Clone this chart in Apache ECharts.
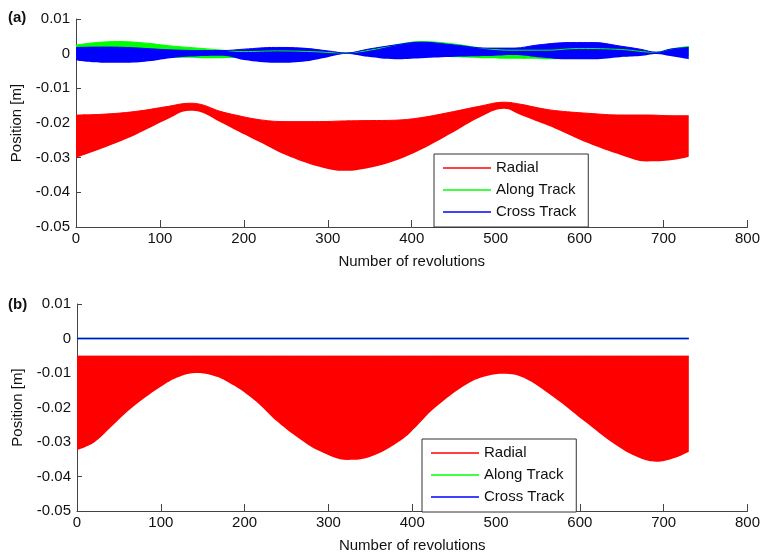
<!DOCTYPE html>
<html>
<head>
<meta charset="utf-8">
<script src="https://cdn.jsdelivr.net/npm/echarts@6/dist/echarts.min.js"></script>
<style>
  html, body { margin: 0; padding: 0; background: #ffffff; }
  #chart { width: 763px; height: 554px; }
</style>
</head>
<body>
<div id="chart"></div>
<script>
// Position errors over the orbit; each oscillating component is described by
// the upper and lower envelope of its fast oscillation, sampled at the
// revolution counts listed in the matching rev* array.

// ---- (a) ----
const revRadialA    = [0, 30, 70, 110, 135, 150, 170, 190, 220, 250, 290, 320, 350, 380, 410, 450, 480, 510, 530, 550, 570, 610, 650, 680, 710, 730];
const radialTopA    = [-0.0177, -0.0175, -0.0167, -0.0152, -0.0143, -0.0147, -0.0165, -0.0177, -0.0191, -0.0196, -0.0196, -0.0194, -0.0193, -0.0192, -0.0185, -0.0167, -0.0152, -0.0140, -0.0146, -0.0156, -0.0164, -0.0172, -0.0177, -0.0177, -0.0179, -0.0179];
const radialBottomA = [-0.0300, -0.0274, -0.0235, -0.0188, -0.0165, -0.0170, -0.0195, -0.0220, -0.0256, -0.0292, -0.0326, -0.0338, -0.0329, -0.0309, -0.0278, -0.0226, -0.0185, -0.0159, -0.0177, -0.0196, -0.0215, -0.0258, -0.0293, -0.0311, -0.0307, -0.0297];

const revAlongA     = [0, 25, 50, 85, 110, 150, 175, 200, 240, 280, 320, 350, 380, 411, 450, 490, 522, 560, 600, 650, 690, 710, 730];
const alongTopA     = [0.0025, 0.0032, 0.0035, 0.0030, 0.0023, 0.0015, 0.0010, 0.0006, 0.0008, 0.0006, 0.0002, 0.0010, 0.0025, 0.0035, 0.0028, 0.0014, 0.0010, 0.0010, 0.0015, 0.0012, 0.0004, 0.0014, 0.0021];
const alongBottomA  = [-0.0008, -0.0009, -0.0009, -0.0010, -0.0012, -0.0013, -0.0013, -0.0012, -0.0010, -0.0006, 0.0000, -0.0004, -0.0006, -0.0008, -0.0010, -0.0013, -0.0015, -0.0016, -0.0014, -0.0008, 0.0000, -0.0004, -0.0006];

const revCrossA     = [0, 30, 60, 90, 112, 150, 175, 200, 238, 270, 300, 322, 348, 380, 411, 451, 490, 522, 550, 589, 617, 648, 672, 692, 708, 730];
const crossTopA     = [0.0018, 0.0019, 0.0018, 0.0014, 0.0011, 0.0009, 0.0009, 0.0013, 0.0018, 0.0016, 0.0008, 0.0002, 0.0013, 0.0025, 0.0033, 0.0025, 0.0016, 0.0016, 0.0025, 0.0032, 0.0032, 0.0022, 0.0013, 0.0004, 0.0013, 0.0018];
const crossBottomA  = [-0.0020, -0.0026, -0.0026, -0.0021, -0.0013, -0.0007, -0.0006, -0.0018, -0.0026, -0.0023, -0.0010, -0.0001, -0.0009, -0.0016, -0.0013, -0.0009, -0.0007, -0.0004, -0.0010, -0.0016, -0.0016, -0.0010, -0.0007, -0.0001, -0.0007, -0.0016];

// ---- (b) ----
const revRadialB    = [0, 20, 40, 67, 105, 125, 142, 160, 180, 210, 240, 265, 290, 323, 350, 387, 406, 426, 466, 490, 509, 533, 568, 604, 643, 670, 691, 712, 730];
const radialTopB    = [-0.0051, -0.0051, -0.0051, -0.0051, -0.0051, -0.0051, -0.0051, -0.0051, -0.0051, -0.0051, -0.0051, -0.0051, -0.0051, -0.0051, -0.0051, -0.0051, -0.0051, -0.0051, -0.0051, -0.0051, -0.0051, -0.0051, -0.0051, -0.0051, -0.0051, -0.0051, -0.0051, -0.0051, -0.0051];
const radialBottomB = [-0.0323, -0.0302, -0.0258, -0.0198, -0.0132, -0.0108, -0.0100, -0.0106, -0.0126, -0.0175, -0.0243, -0.0290, -0.0327, -0.0352, -0.0343, -0.0294, -0.0252, -0.0203, -0.0131, -0.0108, -0.0102, -0.0114, -0.0169, -0.0237, -0.0309, -0.0345, -0.0357, -0.0347, -0.0328];

const revLineB      = [0, 730];
const alongB        = [0, 0];
const crossB        = [0, 0];

// axis ticks
const xTicks = [0, 100, 200, 300, 400, 500, 600, 700, 800];
const yTicks = [-0.05, -0.04, -0.03, -0.02, -0.01, 0, 0.01];

const RED = '#ff0000', GREEN = '#00ff00', BLUE = '#0000ff';
const FONT = '"Liberation Sans", Arial, sans-serif';
const TEXT = '#111111';
const AXIS = '#444444';

// A filled band: an invisible base line on the lower envelope with the
// band thickness stacked on top of it. Values come first in each item so
// the stack is applied to the position, not to the revolution count.
function band(name, revs, top, bottom, color, gi, stackId) {
  const common = {
    type: 'line', xAxisIndex: gi, yAxisIndex: gi,
    stack: stackId, stackStrategy: 'all',
    encode: { x: 1, y: 0 },
    symbol: 'none', smooth: 0.4, animation: false
  };
  return [
    Object.assign({}, common, {
      data: revs.map((r, i) => [bottom[i], r]),
      lineStyle: { width: 0, opacity: 0 },
      silent: true
    }),
    Object.assign({}, common, {
      name: name,
      color: color,
      data: revs.map((r, i) => [top[i] - bottom[i], r]),
      lineStyle: { width: 1, color: color },
      areaStyle: { color: color, opacity: 1 }
    })
  ];
}

function line(name, revs, vals, color, gi) {
  return {
    type: 'line', name: name, xAxisIndex: gi, yAxisIndex: gi,
    color: color, symbol: 'none', animation: false,
    data: revs.map((r, i) => [r, vals[i]]),
    lineStyle: { width: 1.5, color: color }
  };
}

function xAxis(gi) {
  return {
    type: 'value', gridIndex: gi,
    min: xTicks[0], max: xTicks[xTicks.length - 1], interval: 100,
    name: 'Number of revolutions', nameLocation: 'middle', nameGap: 27,
    nameTextStyle: { fontFamily: FONT, fontSize: 15, color: TEXT },
    axisLine: { show: true, onZero: false, lineStyle: { color: AXIS, width: 1 } },
    axisTick: { show: true, inside: true, length: 7, lineStyle: { color: AXIS } },
    axisLabel: { fontFamily: FONT, fontSize: 15, color: TEXT, margin: 4 },
    splitLine: { show: false }
  };
}

function yAxis(gi) {
  return {
    type: 'value', gridIndex: gi,
    min: yTicks[0], max: yTicks[yTicks.length - 1], interval: 0.01,
    name: 'Position [m]', nameLocation: 'middle', nameGap: 52,
    nameTextStyle: { fontFamily: FONT, fontSize: 15, color: TEXT },
    axisLine: { show: true, onZero: false, lineStyle: { color: AXIS, width: 1 } },
    axisTick: { show: true, inside: true, length: 5, lineStyle: { color: AXIS } },
    axisLabel: {
      fontFamily: FONT, fontSize: 15, color: TEXT, margin: 6,
      formatter: v => (Math.abs(v) < 1e-9 ? '0' : v.toFixed(2))
    },
    splitLine: { show: false }
  };
}

function legend(left, top) {
  return {
    orient: 'vertical', left: left, top: top,
    padding: [3, 12, 4, 9], itemGap: 0,
    itemWidth: 48, itemHeight: 1.5,
    backgroundColor: '#ffffff', borderColor: '#333333', borderWidth: 1,
    itemStyle: { borderWidth: 0 },
    textStyle: { fontFamily: FONT, fontSize: 15, color: TEXT, lineHeight: 22 },
    selectedMode: false,
    data: [
      { name: 'Radial', icon: 'rect', itemStyle: { color: RED } },
      { name: 'Along Track', icon: 'rect', itemStyle: { color: GREEN } },
      { name: 'Cross Track', icon: 'rect', itemStyle: { color: BLUE } }
    ]
  };
}

const chart = echarts.init(document.getElementById('chart'), null, { renderer: 'canvas' });

chart.setOption({
  backgroundColor: '#ffffff',
  animation: false,
  title: [
    { text: '(a)', left: 8, top: 10, padding: 0,
      textStyle: { fontFamily: FONT, fontSize: 15, fontWeight: 'bold', color: TEXT } },
    { text: '(b)', left: 8, top: 297, padding: 0,
      textStyle: { fontFamily: FONT, fontSize: 15, fontWeight: 'bold', color: TEXT } }
  ],
  grid: [
    { left: 76, top: 19, width: 675, height: 208 },
    { left: 77, top: 304, width: 675, height: 208 }
  ],
  xAxis: [xAxis(0), xAxis(1)],
  yAxis: [yAxis(0), yAxis(1)],
  legend: [legend(434, 154), legend(422, 439)],
  series: [
    ...band('Radial', revRadialA, radialTopA, radialBottomA, RED, 0, 'radialA'),
    ...band('Along Track', revAlongA, alongTopA, alongBottomA, GREEN, 0, 'alongA'),
    ...band('Cross Track', revCrossA, crossTopA, crossBottomA, BLUE, 0, 'crossA'),
    ...band('Radial', revRadialB, radialTopB, radialBottomB, RED, 1, 'radialB'),
    line('Along Track', revLineB, alongB, GREEN, 1),
    line('Cross Track', revLineB, crossB, BLUE, 1)
  ]
});
</script>
</body>
</html>
